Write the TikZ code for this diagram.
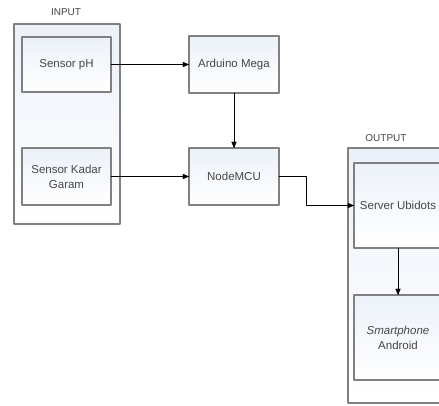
\documentclass[tikz,border=0pt]{standalone}
\usepackage{fontspec}
\setmainfont{Liberation Sans}
\usepackage{tikz}
\usetikzlibrary{arrows}
\definecolor{kotakgaris}{RGB}{128,128,128}
\definecolor{kotakatas}{RGB}{236,241,249}
\definecolor{teksabu}{RGB}{70,70,70}
\tikzset{
  kotak/.style={draw=kotakgaris, line width=1.2pt, top color=kotakatas, bottom color=white,
    inner sep=0pt, outer sep=0pt, align=center, text=teksabu,
    font=\fontsize{11.5}{15}\selectfont},
  grup/.style={kotak, top color=kotakatas, bottom color=white},
  judul/.style={text=teksabu, font=\fontsize{10}{11}\selectfont, inner sep=0pt}
}
\begin{document}
\begin{tikzpicture}[line cap=round,line join=round,>=triangle 45,x=1pt,y=1pt]

		\useasboundingbox (0,0) rectangle (439,406);
		\clip (0,0) rectangle (439,406);
		\fill[white] (0,0) rectangle (439,406);

		%kelompok input:
		\node[grup, minimum width=106, minimum height=200] (input) at (67,282) {};
		\node[judul] (judulin) at (66,394) {INPUT};

		%kelompok output:
		\node[grup, minimum width=100, minimum height=255] (output) at (398,130.5) {};
		\node[judul] (judulout) at (386,268) {OUTPUT};

		% kotak-kotak
		\node[kotak, minimum width=89, minimum height=55] (ph) at (66.5,341.5) {Sensor pH};
		\node[kotak, minimum width=89, minimum height=57] (garam) at (66.5,229.5) {Sensor Kadar\\Garam};
		\node[kotak, minimum width=90, minimum height=57] (mega) at (234,341.5) {Arduino Mega};
		\node[kotak, minimum width=90, minimum height=57] (mcu) at (234,229.5) {NodeMCU};
		\node[kotak, minimum width=88, minimum height=85] (server) at (398,200.5) {Server Ubidots};
		\node[kotak, minimum width=88, minimum height=85] (hp) at (398,68.5) {\textit{Smartphone}\\Android};

		% panah
		\draw[->] (ph.east)--(mega.west);

		\draw[->] (garam.east)--(mcu.west);

		\draw[->] (mega.south)--(mcu.north);

		\draw[->] (mcu.east)--++(27,0)|-(server.west);

		\draw[->] (server.south)--(hp.north);

	\end{tikzpicture}
\end{document}
